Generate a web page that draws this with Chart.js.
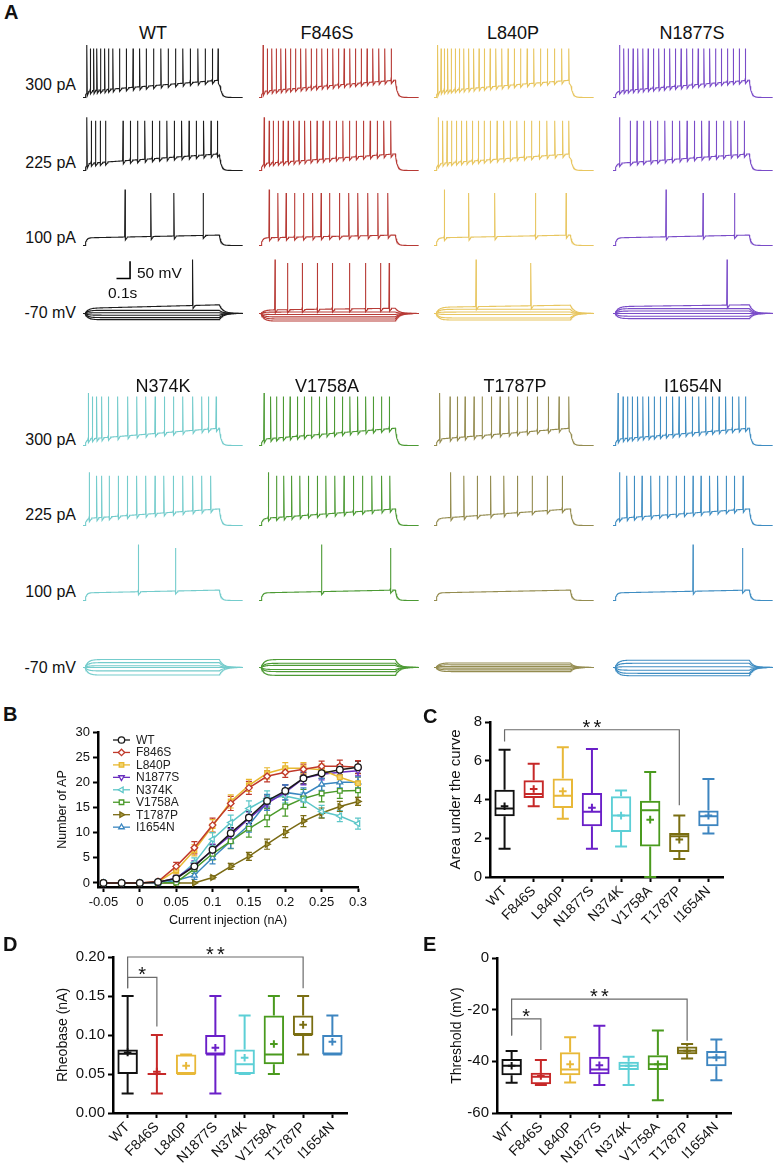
<!DOCTYPE html>
<html>
<head>
<meta charset="utf-8">
<script src="https://cdn.jsdelivr.net/npm/chart.js@4.4.0/dist/chart.umd.min.js"></script>
<style>
  body { margin: 0; background: #fff; width: 777px; height: 1174px; position: relative; overflow: hidden;
         font-family: "Liberation Sans", Arial, sans-serif; color: #111; }
  canvas { position: absolute; }
  .txt { position: absolute; white-space: nowrap; }
</style>
</head>
<body>
<script>
// ---------- data ----------
const genotypes = ["WT", "F846S", "L840P", "N1877S", "N374K", "V1758A", "T1787P", "I1654N"];
const stepLabels = ["300 pA", "225 pA", "100 pA", "-70 mV"];

// panel A: spike times (ms) of the example traces
const spikes300 = [
  [29, 54, 79, 103, 130, 160, 189, 221, 270, 320, 369, 418, 467, 521, 575, 629, 683, 737, 791, 848, 902, 954, 996],
  [30, 62, 95, 128, 162, 197, 233, 270, 308, 346, 385, 424, 464, 504, 545, 586, 628, 670, 712, 754, 797, 840, 884, 928, 975],
  [27, 52, 76, 101, 128, 157, 187, 220, 256, 293, 332, 372, 414, 457, 501, 546, 592, 639, 687, 736, 786, 837, 889, 942, 995],
  [49, 80, 113, 148, 184, 221, 259, 298, 338, 378, 419, 460, 502, 544, 586, 628, 671, 714, 757, 800, 844, 888, 932, 976],
  [39, 69, 101, 138, 187, 256, 330, 397, 463, 532, 600, 667, 736, 810, 876, 925, 982],
  [37, 86, 130, 180, 229, 283, 334, 388, 445, 499, 556, 615, 671, 728, 787, 843, 904, 961],
  [42, 118, 172, 229, 295, 356, 423, 487, 553, 615, 688, 762, 843, 922, 995],
  [37, 74, 108, 143, 182, 221, 263, 305, 349, 393, 440, 487, 536, 585, 634, 684, 733, 782, 831, 880, 929, 978]
];
const spikes225 = [
  [29, 61, 93, 128, 167, 295, 349, 403, 457, 511, 565, 619, 673, 728, 782, 836, 890, 944, 991],
  [38, 75, 105, 142, 178, 215, 256, 295, 337, 381, 428, 472, 521, 570, 619, 668, 717, 771, 820, 872, 921, 972],
  [32, 64, 96, 130, 165, 202, 241, 283, 327, 371, 415, 465, 514, 563, 612, 666, 720, 777, 833, 892, 949, 995],
  [49, 128, 177, 226, 278, 329, 383, 437, 492, 546, 600, 654, 708, 762, 816, 870, 919, 968],
  [46, 101, 138, 194, 260, 327, 396, 463, 531, 597, 666, 736, 810, 876, 942],
  [69, 130, 184, 241, 302, 364, 430, 494, 560, 627, 696, 764, 833, 905, 966],
  [123, 221, 320, 418, 516, 615, 725, 836, 946],
  [49, 103, 157, 214, 280, 344, 403, 467, 526, 590, 649, 713, 772, 836, 895, 959]
];
const spikes100 = [
  [310, 501, 671, 887],
  [75, 140, 200, 262, 328, 396, 458, 520, 594, 663, 730, 803, 877, 951],
  [76, 256, 448, 748, 974],
  [391, 664, 897],
  [408, 683],
  [462, 970],
  [],
  [590, 956]
];
const spikesHold = [[809], [118, 211, 319, 430, 541, 668, 786, 897, 960], [310, 715], [841], [], [], [], []];
// sub-threshold step levels (mV) of the -70 mV families
const familyLevels = [
  [-88, -82, -75, -68, -61],
  [-92, -86, -80, -73, -66],
  [-89, -83, -73, -66, -58],
  [-85, -78, -70, -63, -56],
  [-92, -80, -70, -65, -56, -47],
  [-93, -82, -76, -64, -58, -47],
  [-82, -77, -72, -67, -62, -57],
  [-94, -87, -78, -68, -58, -49]
];
// plateau (start, end) of the spiking trace in each -70 mV family
const holdPlateau = [[-55, -45], [-60, -55], [-52, -46], [-50, -45], null, null, null, null];
// plateau (start, end) and spike peak per step row
const rowPlateau = [[-52, -20], [-50, -22], [-48, -40]];
const rowPeak = [72, 74, 82, 76];
const restMv = -70;
const pulseOn = 15, pulseOff = 1005, sweepEnd = 1180;

// panel B: number of APs
const currentB = [-0.05, -0.025, 0, 0.025, 0.05, 0.075, 0.1, 0.125, 0.15, 0.175, 0.2, 0.225, 0.25, 0.275, 0.3];
const currentTicks = [-0.05, 0, 0.05, 0.1, 0.15, 0.2, 0.25, 0.3];
const apTicks = [0, 5, 10, 15, 20, 25, 30];
const apWT     = [0, 0, 0, 0.2, 0.9, 3.3, 6.6, 9.9, 13.0, 16.3, 18.3, 20.8, 21.8, 22.5, 23.0];
const apF846S  = [0, 0, 0, 0.3, 3.3, 7.0, 11.5, 15.8, 18.9, 21.2, 22.0, 22.6, 23.2, 23.2, 23.0];
const apL840P  = [0, 0, 0, 0.2, 2.5, 6.5, 11.3, 16.2, 19.4, 21.8, 22.8, 22.8, 22.5, 21.0, 19.8];
const apN1877S = [0, 0, 0, 0.1, 1.0, 3.5, 6.5, 9.5, 12.8, 15.8, 18.0, 20.8, 21.6, 22.0, 22.3];
const apN374K  = [0, 0, 0, 0.1, 0.8, 4.0, 8.7, 12.0, 14.8, 16.8, 17.3, 16.5, 14.2, 13.3, 11.8];
const apV1758A = [0, 0, 0, 0, 0.1, 2.8, 5.8, 8.3, 10.8, 13.0, 15.2, 16.8, 17.8, 18.3, 18.4];
const apT1787P = [0, 0, 0, 0, 0, 0, 1.1, 3.3, 5.3, 7.7, 10.1, 12.3, 13.9, 15.2, 16.2];
const apI1654N = [0, 0, 0, 0, 0.5, 1.5, 5.0, 8.3, 11.5, 16.0, 18.0, 17.5, 19.6, 20.0, 20.0];
const apSem = [
  [0, 0, 0, 0.2, 0.5, 0.8, 1.0, 1.1, 1.2, 1.2, 1.2, 1.1, 1.0, 1.0, 1.2],
  [0, 0, 0, 0.3, 0.8, 1.2, 1.4, 1.4, 1.3, 1.1, 1.0, 1.0, 1.0, 1.2, 1.3],
  [0, 0, 0, 0.2, 0.7, 1.1, 1.3, 1.3, 1.2, 1.1, 1.1, 1.1, 1.1, 1.2, 1.2],
  [0, 0, 0, 0.1, 0.5, 0.9, 1.2, 1.3, 1.3, 1.3, 1.5, 1.3, 1.1, 1.0, 1.0],
  [0, 0, 0, 0.1, 0.5, 1.0, 1.3, 1.5, 1.5, 1.5, 1.4, 1.4, 1.2, 1.1, 1.1],
  [0, 0, 0, 0, 0.2, 0.9, 1.2, 1.5, 1.7, 1.8, 1.9, 1.8, 1.7, 1.5, 1.4],
  [0, 0, 0, 0, 0, 0, 0.3, 0.6, 0.8, 1.0, 1.1, 1.1, 1.0, 1.0, 0.8],
  [0, 0, 0, 0, 0.4, 0.8, 1.2, 1.4, 1.4, 1.6, 1.5, 1.4, 1.2, 1.1, 1.1]
];

// panel C: area under the curve
const aucMin  = [1.46, 3.65, 3.01, 1.46, 1.58, 0.0, 0.93, 2.24];
const aucQ1   = [3.13, 4.08, 3.56, 2.62, 2.32, 1.58, 1.29, 2.62];
const aucMed  = [3.53, 4.29, 4.20, 3.37, 3.17, 3.44, 2.10, 3.13];
const aucQ3   = [4.50, 4.99, 5.08, 4.34, 4.17, 3.94, 2.27, 3.43];
const aucMax  = [6.57, 5.85, 6.70, 6.61, 4.46, 5.42, 3.17, 5.06];
const aucMean = [3.65, 4.54, 4.42, 3.58, 3.17, 2.96, 1.93, 3.17];
const aucTicks = [0, 2, 4, 6, 8];

// panel D: rheobase (nA)
const rheoMin  = [0.025, 0.025, 0.05, 0.025, 0.05, 0.05, 0.075, 0.075];
const rheoQ1   = [0.05, 0.05, 0.05, 0.075, 0.05, 0.0625, 0.10, 0.075];
const rheoMed  = [0.076, 0.05, 0.05, 0.075, 0.0625, 0.075, 0.10, 0.075];
const rheoQ3   = [0.0815, 0.05, 0.075, 0.10, 0.0815, 0.125, 0.125, 0.10];
const rheoMax  = [0.15, 0.10, 0.075, 0.15, 0.125, 0.15, 0.15, 0.125];
const rheoMean = [0.0777, 0.053, 0.0605, 0.0837, 0.0708, 0.0884, 0.113, 0.0914];
const rheoTicks = [0, 0.05, 0.10, 0.15, 0.20];

// panel E: threshold (mV)
const thrMin  = [-48.3, -49.2, -48.2, -49.2, -49.2, -55.1, -38.9, -47.3];
const thrQ1   = [-45.4, -48.9, -45.4, -45.0, -43.4, -43.4, -37.3, -41.9];
const thrMed  = [-41.7, -46.0, -43.2, -43.2, -41.7, -41.1, -35.9, -38.5];
const thrQ3   = [-39.1, -44.4, -36.5, -38.2, -40.2, -37.6, -34.3, -36.0];
const thrMax  = [-36.0, -39.5, -30.7, -26.2, -38.2, -28.1, -33.3, -31.5];
const thrMean = [-41.7, -45.7, -41.1, -41.5, -41.7, -41.1, -35.9, -38.5];
const thrTicks = [-60, -40, -20, 0];

// ---------- styles ----------
const traceColors = ["#1c1c1c", "#b73a35", "#e8c660", "#7a4cc8", "#74cccc", "#4c9a34", "#948c50", "#3f8dc2"];
const lineColors = ["#1a1a1a", "#c0392b", "#e8b830", "#6a2fbf", "#5cc6c8", "#4a9a2a", "#7a6a14", "#3a86c0"];
const boxColors = ["#111111", "#c62828", "#e8b838", "#6a1fc8", "#5ccfd6", "#4a9a1e", "#7a6e12", "#3d85c0"];
const markerStyle = ["circle", "rectRot", "rect", "triangle", "triangle", "rect", "triangle", "triangle"];
const markerRot = [0, 0, 0, 180, -90, 0, 90, 0];
const markerFill = ["#fff", "#fff", "#f2d36a", "#fff", "#fff", "#fff", "#a89a40", "#fff"];

Chart.defaults.font.family = '"Liberation Sans", Arial, sans-serif';
Chart.defaults.color = "#111";
Chart.defaults.animation = false;

function addCanvas(left, top, w, h) {
  const cv = document.createElement("canvas");
  cv.width = w; cv.height = h;
  cv.style.left = left + "px"; cv.style.top = top + "px";
  document.body.appendChild(cv);
  return cv;
}
function addText(txt, css) {
  const d = document.createElement("div");
  d.className = "txt";
  d.textContent = txt;
  d.style.cssText += css;
  document.body.appendChild(d);
}

// ---------- panel A ----------
// build a voltage trace from its spike times and plateau levels
function buildTrace(spikes, vStart, vEnd, peak, tau) {
  const base = t => {
    if (t < pulseOn) return restMv;
    if (t <= pulseOff) {
      const target = vStart + (vEnd - vStart) * (t - pulseOn) / (pulseOff - pulseOn);
      return restMv + (target - restMv) * (1 - Math.exp(-(t - pulseOn) / tau));
    }
    const vOff = base(pulseOff);
    return restMv + (vOff - restMv) * Math.exp(-(t - pulseOff) / (tau * 1.4));
  };
  const win = spikes.map((ts, i) => {
    const next = i < spikes.length - 1 ? spikes[i + 1] : pulseOff + 20;
    return [ts - 1.5, ts + Math.min(14, (next - ts) / 2)];
  });
  const pts = [];
  for (let t = 0; t <= sweepEnd; t += 3) {
    if (win.some(w => t >= w[0] && t <= w[1])) continue;
    pts.push({ x: t, y: base(t) });
  }
  spikes.forEach((ts, i) => {
    const w = win[i];
    pts.push({ x: w[0], y: base(w[0]) + 4 });
    pts.push({ x: ts, y: i === 0 ? peak + 10 : peak });
    pts.push({ x: ts + 2.5, y: base(ts) - 9 });
    pts.push({ x: w[1], y: base(w[1]) - 3 });
  });
  pts.sort((a, b) => a.x - b.x);
  return pts;
}

function traceChart(left, top, color, traces, extra) {
  const cv = addCanvas(left, top, 160, 76);
  const datasets = traces.map(d => ({
    data: d, showLine: true, borderColor: color, borderWidth: 1.1, pointRadius: 0, tension: 0
  }));
  if (extra) datasets.push(extra);
  new Chart(cv, {
    type: "scatter",
    data: { datasets },
    options: {
      responsive: false, animation: false, events: [], clip: false,
      layout: { padding: 0 },
      plugins: { legend: { display: false }, tooltip: { enabled: false } },
      scales: {
        x: { type: "linear", display: false, min: 0, max: sweepEnd },
        y: { type: "linear", display: false, min: -115, max: 105 }
      }
    }
  });
}

const colLeft = [83, 259, 434, 613];
const blockRowTop = [[37, 110, 185, 253], [385, 465, 540, 607]];
const blockLabelY = [[85, 163, 238, 313], [440, 515, 592, 668]];
const blockTitleX = [[153, 327, 513, 692], [163, 327, 515, 693]];
const blockTitleY = [33, 386];

addText("A", "left:4px;top:1px;font-size:20px;font-weight:bold;");

for (let b = 0; b < 2; b++) {
  for (let c = 0; c < 4; c++) {
    const g = b * 4 + c;
    addText(genotypes[g], `left:${blockTitleX[b][c] - 60}px;width:120px;text-align:center;top:${blockTitleY[b] - 11}px;font-size:18px;line-height:22px;`);
    const col = traceColors[g];
    const rows = [spikes300[g], spikes225[g], spikes100[g]];
    rows.forEach((sp, r) => {
      traceChart(colLeft[c], blockRowTop[b][r], col,
        [buildTrace(sp, rowPlateau[r][0], rowPlateau[r][1], rowPeak[r], 10)]);
    });
    const fam = familyLevels[g].map(v => buildTrace([], v, v, 0, 22));
    if (holdPlateau[g]) fam.push(buildTrace(spikesHold[g], holdPlateau[g][0], holdPlateau[g][1], rowPeak[3], 22));
    let bar = null;
    if (g === 0) {
      // 0.1 s / 50 mV scale bar
      bar = { data: [{ x: 247, y: 31 }, { x: 347, y: 31 }, { x: 347, y: 81 }], showLine: true,
              borderColor: "#000", borderWidth: 1.6, pointRadius: 0, tension: 0 };
    }
    traceChart(colLeft[c], blockRowTop[b][3], col, fam, bar);
  }
  stepLabels.forEach((s, r) => {
    addText(s, `left:0px;width:76px;text-align:right;top:${blockLabelY[b][r] - 10}px;font-size:16px;line-height:20px;`);
  });
}
addText("50 mV", "left:137px;top:264px;font-size:15.5px;line-height:18px;");
addText("0.1s", "left:108px;top:284px;font-size:15.5px;line-height:18px;");

// ---------- panel B ----------
const errorBars = {
  id: "errorBars",
  beforeDatasetsDraw(chart) {
    const { ctx, scales: { x, y } } = chart;
    ctx.save();
    chart.data.datasets.forEach(ds => {
      ctx.strokeStyle = ds.borderColor;
      ctx.lineWidth = 1.2;
      ds.data.forEach((p, j) => {
        const e = ds.sem[j];
        if (!e) return;
        const px = x.getPixelForValue(p.x), y1 = y.getPixelForValue(p.y - e), y2 = y.getPixelForValue(p.y + e);
        ctx.beginPath();
        ctx.moveTo(px, y1); ctx.lineTo(px, y2);
        ctx.moveTo(px - 3, y1); ctx.lineTo(px + 3, y1);
        ctx.moveTo(px - 3, y2); ctx.lineTo(px + 3, y2);
        ctx.stroke();
      });
    });
    ctx.restore();
  }
};
const lineLegend = {
  id: "lineLegend",
  afterDraw(chart) {
    const ctx = chart.ctx;
    const x0 = 113, y0 = 40, gap = 12.45;
    ctx.save();
    chart.data.datasets.forEach((ds, i) => {
      const y = y0 + i * gap;
      ctx.strokeStyle = ds.borderColor;
      ctx.lineWidth = 1.3;
      ctx.beginPath(); ctx.moveTo(x0, y); ctx.lineTo(x0 + 17, y); ctx.stroke();
      ctx.fillStyle = ds.pointBackgroundColor;
      Chart.helpers.drawPoint(ctx, { pointStyle: ds.pointStyle, rotation: ds.pointRotation, radius: 3.2, borderWidth: 1.2 }, x0 + 8.5, y);
      ctx.fillStyle = "#222";
      ctx.font = '12px "Liberation Sans", Arial, sans-serif';
      ctx.textBaseline = "middle";
      ctx.fillText(ds.label, x0 + 23, y + 0.5);
    });
    ctx.restore();
  }
};

const apCounts = [apWT, apF846S, apL840P, apN1877S, apN374K, apV1758A, apT1787P, apI1654N];
const axisLook = {
  border: { display: true, color: "#000", width: 2.5 },
  grid: { display: true, drawOnChartArea: false, drawTicks: true, tickLength: 5, tickWidth: 2, tickColor: "#000", offset: false }
};

addText("B", "left:3px;top:703px;font-size:20px;font-weight:bold;");
new Chart(addCanvas(0, 700, 380, 240), {
  type: "line",
  data: {
    datasets: genotypes.map((g, i) => ({
      label: g,
      data: currentB.map((c, j) => ({ x: c, y: apCounts[i][j] })),
      sem: apSem[i],
      borderColor: lineColors[i], borderWidth: 1.5, tension: 0,
      pointStyle: markerStyle[i], pointRotation: markerRot[i], pointRadius: 3.3,
      pointBorderWidth: 1.3, pointBorderColor: lineColors[i], pointBackgroundColor: markerFill[i]
    }))
  },
  options: {
    responsive: false, events: [], clip: false,
    layout: { padding: { left: 40, top: 32, right: 22, bottom: 0 } },
    plugins: { legend: { display: false }, tooltip: { enabled: false } },
    scales: {
      x: {
        type: "linear", min: -0.0575, max: 0.3,
        afterBuildTicks: ax => { ax.ticks = currentTicks.map(v => ({ value: v })); },
        afterFit: ax => { ax.height = 53; },
        ticks: { font: { size: 13 }, padding: 3, maxRotation: 0, callback: v => String(+v.toFixed(3)) },
        title: { display: true, text: "Current injection (nA)", font: { size: 12.5 }, padding: { top: 0, bottom: 11.6 } },
        ...axisLook
      },
      y: {
        min: -0.8, max: 30,
        afterBuildTicks: ax => { ax.ticks = apTicks.map(v => ({ value: v })); },
        afterFit: ax => { ax.width = 58; },
        ticks: { font: { size: 13 }, padding: 3 },
        title: { display: true, text: "Number of AP", font: { size: 12.5 }, padding: { top: 15, bottom: 0 } },
        ...axisLook
      }
    }
  },
  plugins: [errorBars, lineLegend]
});

// ---------- panels C, D, E ----------
function boxExtras(stats, brackets) {
  return {
    id: "boxExtras",
    afterDatasetsDraw(chart) {
      const { ctx } = chart;
      const y = chart.scales.y;
      const py = v => y.getPixelForValue(v);
      const bars = chart.getDatasetMeta(0).data;
      ctx.save();
      ctx.lineWidth = 2;
      bars.forEach((bar, i) => {
        const cx = bar.x, half = bar.width / 2, cap = 6;
        ctx.strokeStyle = boxColors[i];
        ctx.beginPath();
        ctx.moveTo(cx, py(stats.q3[i])); ctx.lineTo(cx, py(stats.max[i]));
        ctx.moveTo(cx - cap, py(stats.max[i])); ctx.lineTo(cx + cap, py(stats.max[i]));
        ctx.moveTo(cx, py(stats.q1[i])); ctx.lineTo(cx, py(stats.min[i]));
        ctx.moveTo(cx - cap, py(stats.min[i])); ctx.lineTo(cx + cap, py(stats.min[i]));
        ctx.moveTo(cx - half + 1, py(stats.med[i])); ctx.lineTo(cx + half - 1, py(stats.med[i]));
        ctx.stroke();
      });
      ctx.strokeStyle = "#6b6b6b";
      ctx.lineWidth = 1.2;
      ctx.fillStyle = "#111";
      ctx.font = '20px "Liberation Sans", Arial, sans-serif';
      ctx.textAlign = "center";
      ctx.textBaseline = "alphabetic";
      brackets.forEach(b => {
        const x1 = bars[b.from].x, x2 = bars[b.to].x, yl = py(b.level);
        ctx.beginPath();
        ctx.moveTo(x1, py(b.dropFrom)); ctx.lineTo(x1, yl); ctx.lineTo(x2, yl); ctx.lineTo(x2, py(b.dropTo));
        ctx.stroke();
        const mid = (x1 + x2) / 2;
        for (let k = 0; k < b.stars; k++) ctx.fillText("*", mid + (k - (b.stars - 1) / 2) * 11, yl + 4);
      });
      ctx.restore();
    }
  };
}

function boxChart(cv, stats, cfg) {
  new Chart(cv, {
    type: "bar",
    data: {
      labels: genotypes,
      datasets: [
        { type: "bar", data: stats.q1.map((v, i) => [v, stats.q3[i]]), borderColor: boxColors,
          backgroundColor: "rgba(255,255,255,0)", borderWidth: 2, borderSkipped: false,
          barPercentage: 0.7, categoryPercentage: 1, order: 2 },
        { type: "line", data: stats.mean, showLine: false, pointStyle: "cross", pointRadius: 3.8,
          pointBorderWidth: 2, pointBorderColor: boxColors, pointBackgroundColor: boxColors, order: 1 }
      ]
    },
    options: {
      responsive: false, events: [],
      layout: { padding: cfg.padding },
      plugins: { legend: { display: false }, tooltip: { enabled: false } },
      scales: {
        x: {
          offset: true,
          afterFit: ax => { ax.height = cfg.xHeight; },
          ticks: { font: { size: 14 }, minRotation: 45, maxRotation: 45, autoSkip: false, padding: 1 },
          ...axisLook
        },
        y: {
          min: cfg.ticks[0], max: cfg.ticks[cfg.ticks.length - 1],
          afterBuildTicks: ax => { ax.ticks = cfg.ticks.map(v => ({ value: v })); },
          afterFit: ax => { ax.width = cfg.yWidth; },
          ticks: { font: { size: 15 }, padding: 3, callback: cfg.fmt },
          title: { display: true, text: cfg.title, font: { size: cfg.titleSize }, padding: { top: cfg.titlePad, bottom: 0 } },
          ...axisLook
        }
      }
    },
    plugins: [boxExtras(stats, cfg.brackets)]
  });
}

addText("C", "left:423px;top:705px;font-size:20px;font-weight:bold;");
boxChart(addCanvas(390, 700, 387, 240),
  { min: aucMin, q1: aucQ1, med: aucMed, q3: aucQ3, max: aucMax, mean: aucMean },
  { padding: { left: 40, top: 22, right: 54, bottom: 0 }, xHeight: 63, yWidth: 60, ticks: aucTicks,
    fmt: v => String(v), title: "Area under the curve", titleSize: 15, titlePad: 16.6,
    brackets: [{ from: 0, to: 6, level: 7.6, dropFrom: 7.0, dropTo: 3.7, stars: 2 }] });

addText("D", "left:3px;top:933px;font-size:20px;font-weight:bold;");
boxChart(addCanvas(0, 930, 380, 244),
  { min: rheoMin, q1: rheoQ1, med: rheoMed, q3: rheoQ3, max: rheoMax, mean: rheoMean },
  { padding: { left: 40, top: 27, right: 33, bottom: 0 }, xHeight: 61, yWidth: 73, ticks: rheoTicks,
    fmt: v => v.toFixed(2), title: "Rheobase (nA)", titleSize: 14, titlePad: 14.6,
    brackets: [{ from: 0, to: 6, level: 0.20, dropFrom: 0.16, dropTo: 0.16, stars: 2 },
               { from: 0, to: 1, level: 0.174, dropFrom: 0.16, dropTo: 0.111, stars: 1 }] });

addText("E", "left:423px;top:933px;font-size:20px;font-weight:bold;");
boxChart(addCanvas(390, 930, 387, 244),
  { min: thrMin, q1: thrQ1, med: thrMed, q3: thrQ3, max: thrMax, mean: thrMean },
  { padding: { left: 40, top: 28, right: 46, bottom: 0 }, xHeight: 61, yWidth: 67, ticks: thrTicks,
    fmt: v => String(v), title: "Threshold (mV)", titleSize: 14, titlePad: 18.6,
    brackets: [{ from: 0, to: 6, level: -15.9, dropFrom: -30, dropTo: -32, stars: 2 },
               { from: 0, to: 1, level: -23.6, dropFrom: -30, dropTo: -35.6, stars: 1 }] });
</script>
</body>
</html>
